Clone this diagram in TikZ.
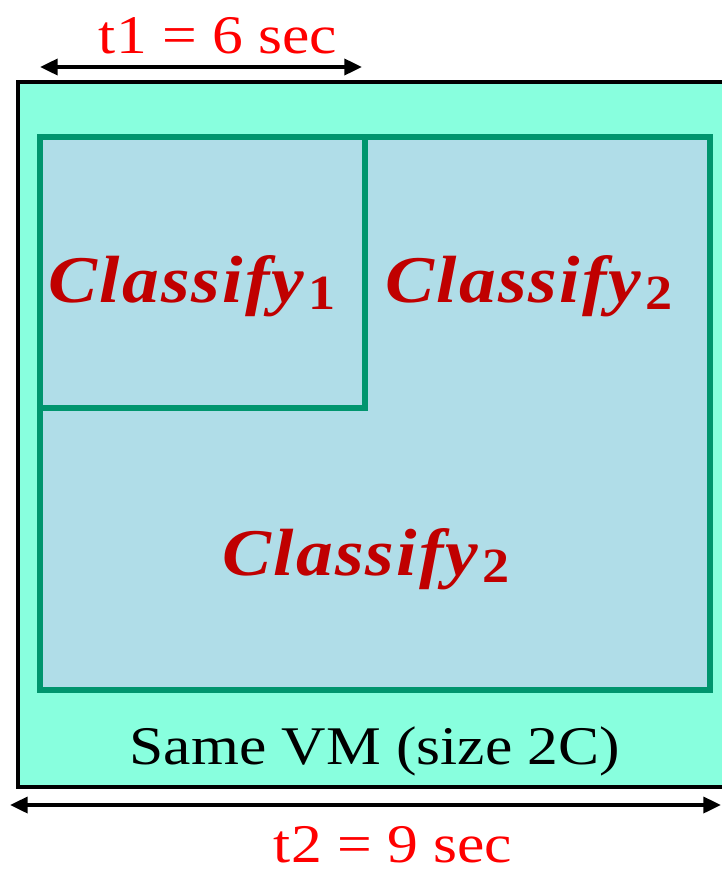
\documentclass[tikz,border=0pt]{standalone}
\usepackage{fontspec}
\setmainfont{Liberation Serif}
\newfontfamily\clsfont[LetterSpace=3]{Liberation Serif}
\usetikzlibrary{arrows.meta,positioning}

\definecolor{vmfill}{HTML}{88FFDE}
\definecolor{taskfill}{HTML}{B0DDE8}
\definecolor{taskline}{HTML}{00956E}
\definecolor{clsred}{HTML}{C00000}

% task name with bold subscript
\newcommand{\clsname}[1]{{\clsfont\bfseries\itshape Classify}\kern2pt\raisebox{-4pt}{\fontsize{28}{28}\selectfont\bfseries #1}}

\begin{document}
\begin{tikzpicture}[x=0.02cm,y=-0.02cm,
	timelabel/.style={text=red,font=\fontsize{31}{31}\selectfont,
		xscale=1.13,transform shape,inner sep=0,anchor=base},
	vmlabel/.style={font=\fontsize{31}{31}\selectfont,
		xscale=1.13,transform shape,inner sep=0,anchor=base},
	clslabel/.style={text=clsred,font=\fontsize{38}{38}\selectfont,
		xscale=1.1,transform shape,inner sep=0,anchor=base west},
	span/.style={{Triangle[length=10pt,width=9pt]}-{Triangle[length=10pt,width=9pt]},
		line width=2.2pt}]
	\useasboundingbox (0,0) rectangle (721,872);

	% the VM
	\draw[fill=vmfill,line width=2.3pt] (18,82) rectangle (728,787);

	% tasks inside the VM
	\draw[fill=taskfill,draw=taskline,line width=3.4pt] (40,137) rectangle (710,690);
	\draw[draw=taskline,line width=3.4pt] (40,137) rectangle (365,408);

	\node[clslabel] (cls1) at (48,302) {\clsname{1}};
	\node[clslabel] (cls2a) at (385,302) {\clsname{2}};
	\node[clslabel] (cls2b) at (222,575) {\clsname{2}};

	\node[vmlabel] (vm) at (375,764) {Same VM (size 2C)};

	% time spans
	\coordinate (t1start) at (40,67);
	\coordinate (t1end) at (362,67);
	\coordinate (t2start) at (10,805);
	\coordinate (t2end) at (721,805);

	\draw[span] (t1start) -- (t1end);
	\draw[span] (t2start) -- (t2end);

	\node[timelabel] (t1) at (218,53) {t1 = 6 sec};
	\node[timelabel] (t2) at (393,862) {t2 = 9 sec};
\end{tikzpicture}
\end{document}
